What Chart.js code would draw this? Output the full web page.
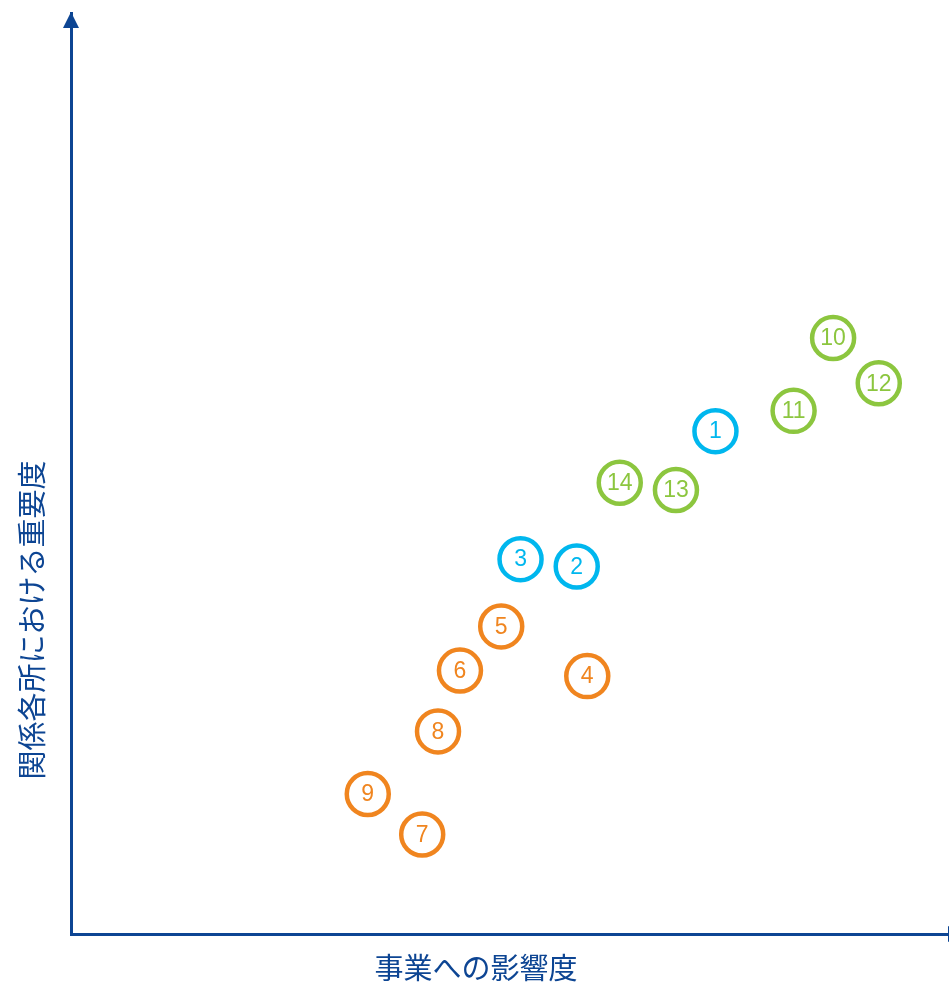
<!DOCTYPE html>
<html>
<head>
<meta charset="utf-8">
<script src="https://cdn.jsdelivr.net/npm/chart.js@4"></script>
<style>
  html, body { margin: 0; padding: 0; background: #ffffff; }
  #wrap { width: 949px; height: 982px; }
</style>
</head>
<body>
<div id="wrap"><canvas id="c" width="949" height="982"></canvas></div>
<script>
// Issue numbers, grouped by category colour
const issueIds    = [1, 2, 3, 4, 5, 6, 7, 8, 9, 10, 11, 12, 13, 14];
// Impact on business (x) and importance to stakeholders (y), 0–100
const impactScore = [73.4, 57.6, 51.2, 58.8, 49.0, 44.3, 40.0, 41.8, 33.8, 86.8, 82.3, 92.0, 68.9, 62.5];
const stakeScore  = [54.6, 39.9, 40.7, 28.0, 33.4, 28.6, 10.8, 22.0, 15.2, 64.7, 56.8, 59.8, 48.2, 49.0];
const groupOf     = ['blue', 'blue', 'blue', 'orange', 'orange', 'orange', 'orange', 'orange', 'orange',
                     'green', 'green', 'green', 'green', 'green'];
const xAxisTitle  = '事業への影響度';
const yAxisTitle  = '関係各所における重要度';

const palette = { blue: '#00b7ee', orange: '#f0851f', green: '#8cc63f' };
const axisColor = '#0d4593';

const points = issueIds.map((id, i) => ({ x: impactScore[i], y: stakeScore[i], id }));
const colors = groupOf.map(g => palette[g]);

// Numbers inside the circles, arrowheads and axis titles
const decorations = {
  id: 'decorations',
  afterDatasetsDraw(chart) {
    const ctx = chart.ctx;
    const meta = chart.getDatasetMeta(0);
    ctx.save();
    ctx.font = '23px "Liberation Sans", Arial, sans-serif';
    ctx.textAlign = 'center';
    ctx.textBaseline = 'middle';
    meta.data.forEach((el, i) => {
      ctx.fillStyle = colors[i];
      ctx.fillText(String(points[i].id), el.x, el.y + 1);
    });
    ctx.restore();
  },
  afterDraw(chart) {
    const { ctx, chartArea: a } = chart;
    ctx.save();
    ctx.fillStyle = axisColor;
    // arrowhead on the vertical axis
    ctx.beginPath();
    ctx.moveTo(a.left, a.top - 1);
    ctx.lineTo(a.left - 8, a.top + 15);
    ctx.lineTo(a.left + 8, a.top + 15);
    ctx.closePath();
    ctx.fill();
    // arrowhead on the horizontal axis (runs past the right edge)
    ctx.beginPath();
    ctx.moveTo(a.right + 16, a.bottom);
    ctx.lineTo(a.right - 1, a.bottom - 8);
    ctx.lineTo(a.right - 1, a.bottom + 8);
    ctx.closePath();
    ctx.fill();

    ctx.fillStyle = axisColor;
    ctx.font = '29px "Noto Sans CJK JP", sans-serif';
    ctx.textAlign = 'center';
    ctx.textBaseline = 'middle';
    ctx.fillText(xAxisTitle, 476, a.bottom + 34);
    ctx.translate(32, 620);
    ctx.rotate(-Math.PI / 2);
    ctx.fillText(yAxisTitle, 0, 0);
    ctx.restore();
  }
};

new Chart(document.getElementById('c'), {
  type: 'scatter',
  data: {
    datasets: [{
      data: points,
      pointStyle: 'circle',
      pointRadius: 21,
      pointHoverRadius: 21,
      pointBorderWidth: 4.5,
      pointHoverBorderWidth: 4.5,
      pointBackgroundColor: '#ffffff',
      pointBorderColor: colors,
      clip: false
    }]
  },
  options: {
    responsive: false,
    animation: false,
    events: [],
    layout: { autoPadding: false, padding: { left: 71, right: 0, top: 13, bottom: 48 } },
    plugins: { legend: { display: false }, tooltip: { enabled: false } },
    scales: {
      x: {
        type: 'linear', min: 0, max: 100,
        grid: { display: false },
        ticks: { display: false },
        border: { display: true, color: axisColor, width: 3 },
        afterFit(s) { s.height = 0; }
      },
      y: {
        type: 'linear', min: 0, max: 100,
        grid: { display: false },
        ticks: { display: false },
        border: { display: true, color: axisColor, width: 3 },
        afterFit(s) { s.width = 0; }
      }
    }
  },
  plugins: [decorations]
});
</script>
</body>
</html>
